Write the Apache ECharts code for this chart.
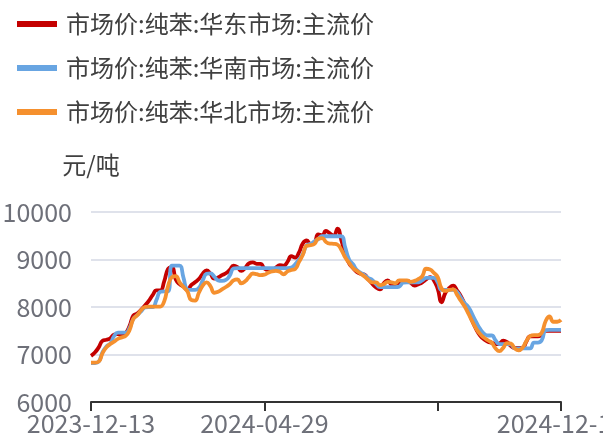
<!DOCTYPE html>
<html>
<head>
<meta charset="utf-8">
<script src="https://cdn.jsdelivr.net/npm/echarts@6/dist/echarts.min.js"></script>
<style>html,body{margin:0;padding:0;background:#fff;}#c{width:603px;height:437px;}</style>
</head>
<body>
<div id="c"></div>
<script>
const seriesNames = ['市场价:纯苯:华东市场:主流价', '市场价:纯苯:华南市场:主流价', '市场价:纯苯:华北市场:主流价'];
const dates = [
'2023-12-13','2023-12-16','2023-12-19','2023-12-22','2023-12-25','2023-12-28','2023-12-31','2024-01-03','2024-01-06','2024-01-09',
'2024-01-12','2024-01-15','2024-01-18','2024-01-21','2024-01-24','2024-01-27','2024-01-30','2024-02-02','2024-02-05','2024-02-08',
'2024-02-12','2024-02-16','2024-02-20','2024-02-23','2024-02-26','2024-02-29','2024-03-03','2024-03-06','2024-03-09','2024-03-12',
'2024-03-15','2024-03-18','2024-03-21','2024-03-24','2024-03-27','2024-03-30','2024-04-02','2024-04-05','2024-04-08','2024-04-11',
'2024-04-14','2024-04-17','2024-04-20','2024-04-23','2024-04-26','2024-04-29','2024-05-02','2024-05-05','2024-05-08','2024-05-11',
'2024-05-14','2024-05-17','2024-05-20','2024-05-23','2024-05-26','2024-05-29','2024-06-01','2024-06-04','2024-06-07','2024-06-10',
'2024-06-13','2024-06-16','2024-06-19','2024-06-22','2024-06-25','2024-06-28','2024-07-01','2024-07-04','2024-07-07','2024-07-10',
'2024-07-13','2024-07-16','2024-07-19','2024-07-22','2024-07-25','2024-07-28','2024-07-31','2024-08-03','2024-08-06','2024-08-09',
'2024-08-12','2024-08-15','2024-08-18','2024-08-21','2024-08-24','2024-08-27','2024-08-30','2024-09-02','2024-09-05','2024-09-08',
'2024-09-11','2024-09-14','2024-09-17','2024-09-20','2024-09-23','2024-09-26','2024-09-29','2024-10-02','2024-10-05','2024-10-08',
'2024-10-11','2024-10-14','2024-10-17','2024-10-20','2024-10-23','2024-10-26','2024-10-29','2024-11-01','2024-11-04','2024-11-07',
'2024-11-10','2024-11-13','2024-11-16','2024-11-19','2024-11-22','2024-11-25','2024-11-28','2024-12-01','2024-12-04','2024-12-07',
'2024-12-10','2024-12-13','2024-12-16'
];
const eastChina = [
6970,7040,7150,7290,7310,7340,7420,7430,7400,7450,
7600,7820,7860,7940,8030,8130,8250,8350,8350,8540,
8800,8840,8580,8480,8430,8360,8460,8520,8590,8700,
8770,8700,8600,8620,8670,8710,8780,8870,8840,8760,
8820,8920,8940,8910,8910,8810,8780,8780,8830,8880,
8870,8950,9070,9040,9150,9340,9400,9320,9350,9530,
9510,9600,9550,9500,9650,9400,9120,8920,8820,8740,
8700,8680,8580,8490,8410,8370,8500,8560,8470,8450,
8520,8550,8550,8510,8450,8480,8520,8580,8630,8560,
8380,8100,8300,8400,8450,8350,8230,8060,7900,7700,
7530,7400,7320,7270,7250,7220,7230,7290,7260,7180,
7140,7140,7140,7270,7380,7380,7380,7420,7500,7500,
7500,7500,7500
];
const southChina = [
6820,6820,6850,7050,7170,7230,7390,7460,7460,7460,
7560,7750,7830,7910,7990,8000,8000,8150,8320,8330,
8330,8870,8870,8870,8620,8370,8360,8360,8400,8560,
8700,8710,8640,8560,8550,8570,8660,8810,8820,8820,
8820,8820,8820,8820,8820,8820,8820,8820,8820,8820,
8820,8820,8830,8900,9000,9120,9300,9330,9380,9430,
9490,9490,9490,9490,9490,9490,9250,9000,8900,8780,
8720,8670,8610,8570,8480,8420,8420,8420,8420,8420,
8430,8510,8520,8520,8520,8520,8560,8615,8615,8615,
8520,8360,8360,8360,8360,8320,8200,8080,7995,7840,
7680,7540,7440,7400,7400,7300,7220,7220,7220,7210,
7130,7130,7130,7130,7130,7250,7250,7300,7510,7520,
7520,7520,7520
];
const northChina = [
6830,6830,6850,7030,7150,7220,7270,7330,7360,7390,
7510,7750,7825,7930,8000,8010,8010,8010,8010,8120,
8440,8630,8650,8520,8420,8330,8150,8135,8300,8450,
8520,8440,8300,8320,8370,8420,8480,8560,8580,8500,
8540,8630,8705,8690,8670,8680,8720,8750,8760,8740,
8690,8750,8780,8800,8950,9100,9290,9300,9330,9440,
9450,9370,9335,9330,9310,9200,9040,8930,8820,8760,
8700,8640,8570,8520,8520,8460,8480,8530,8520,8500,
8560,8560,8560,8530,8550,8590,8650,8805,8790,8720,
8630,8390,8340,8360,8370,8260,8130,8010,7854,7690,
7540,7430,7355,7300,7250,7130,7070,7140,7240,7230,
7130,7090,7140,7280,7390,7410,7410,7460,7700,7800,
7690,7690,7730
];
const yTicks = [6000, 7000, 8000, 9000, 10000];
const labelStep = 45;

const colors = ['#C40000', '#68A5E2', '#F5902E'];
const font = '"Noto Sans CJK SC", "Noto Sans", sans-serif';
const last = dates.length - 1;

const chart = echarts.init(document.getElementById('c'), null, {renderer: 'canvas'});
chart.setOption({
  animation: false,
  color: colors,
  legend: {
    orient: 'vertical',
    left: 12,
    top: 7,
    icon: 'rect',
    itemWidth: 40,
    itemHeight: 6,
    itemGap: 20,
    textStyle: {fontSize: 24, color: '#404040', fontFamily: font, padding: [0, 0, 0, 4]},
    data: seriesNames
  },
  grid: {left: 91, right: 42, top: 212, bottom: 35, containLabel: false, outerBoundsMode: 'none'},
  xAxis: {
    type: 'category',
    data: dates,
    boundaryGap: false,
    axisLine: {lineStyle: {color: '#333', width: 2}},
    axisTick: {
      length: 9,
      lineStyle: {color: '#333', width: 2},
      interval: function (i) { return i % labelStep === 0 || i === last; }
    },
    axisLabel: {
      fontSize: 25,
      color: '#6E7079',
      fontFamily: font,
      margin: 9,
      hideOverlap: false,
      interval: function (i) { return i === 0 || i === labelStep || i === last; }
    },
    splitLine: {show: false}
  },
  yAxis: {
    type: 'value',
    min: yTicks[0],
    max: yTicks[yTicks.length - 1],
    interval: 1000,
    name: '元/吨',
    nameGap: 35,
    nameTextStyle: {fontSize: 24, color: '#404040', fontFamily: font, align: 'center'},
    axisLine: {show: false},
    axisTick: {show: false},
    axisLabel: {fontSize: 25, color: '#6E7079', fontFamily: font, margin: 19, formatter: function (v) { return String(v); }},
    splitLine: {lineStyle: {color: '#D5D9E5', width: 1.5}}
  },
  series: [
    {name: seriesNames[0], type: 'line', data: eastChina, symbol: 'none', smooth: true, lineStyle: {width: 3.8, color: colors[0]}},
    {name: seriesNames[1], type: 'line', data: southChina, symbol: 'none', smooth: true, lineStyle: {width: 3.8, color: colors[1]}},
    {name: seriesNames[2], type: 'line', data: northChina, symbol: 'none', smooth: true, lineStyle: {width: 3.8, color: colors[2]}}
  ]
});
</script>
</body>
</html>
